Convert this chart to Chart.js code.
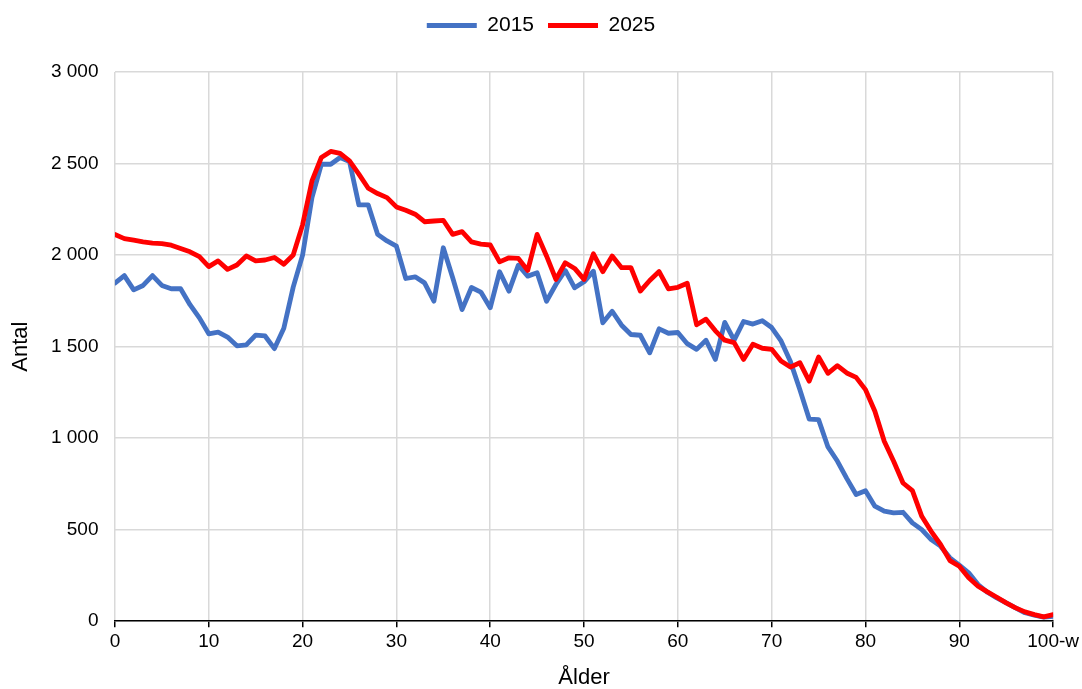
<!DOCTYPE html>
<html>
<head>
<meta charset="utf-8">
<script src="https://cdn.jsdelivr.net/npm/chart.js@4"></script>
<style>
  body { margin: 0; background: #fff; }
  #wrap { width: 1082px; height: 689px; position: relative; }
</style>
</head>
<body>
<div id="wrap"><canvas id="ageChart"></canvas></div>
<script>
// age labels, last one is the open class
const ageLabels = [];
for (let a = 0; a < 100; a++) ageLabels.push(String(a));
ageLabels.push('100-w');

const seriesNames = ['2015', '2025'];

const values2015 = [
  1847, 1888, 1810, 1834, 1888, 1834, 1816, 1816, 1729, 1657,
  1570, 1579, 1552, 1504, 1509, 1563, 1558, 1489, 1600, 1825,
  2000, 2314, 2496, 2496, 2533, 2511, 2274, 2274, 2113, 2077,
  2049, 1872, 1881, 1848, 1748, 2040, 1876, 1702, 1823, 1798,
  1712, 1909, 1803, 1945, 1885, 1903, 1748, 1839, 1916, 1821,
  1854, 1912, 1630, 1693, 1617, 1566, 1562, 1466, 1597, 1573,
  1577, 1516, 1485, 1535, 1430, 1632, 1535, 1637, 1623, 1641,
  1604, 1531, 1418, 1266, 1104, 1101, 952, 875, 780, 692,
  713, 628, 601, 592, 595, 537, 500, 446, 410, 346,
  306, 264, 200, 158, 127, 100, 73, 46, 33, 22,
  27
];

const values2025 = [
  2112, 2090, 2081, 2072, 2065, 2063, 2054, 2036, 2018, 1991,
  1937, 1968, 1922, 1946, 1995, 1968, 1973, 1987, 1950, 2000,
  2165, 2405, 2533, 2566, 2555, 2515, 2442, 2365, 2336, 2314,
  2263, 2245, 2223, 2182, 2186, 2190, 2113, 2128, 2072, 2060,
  2055, 1963, 1985, 1982, 1916, 2113, 1995, 1867, 1958, 1927,
  1867, 2007, 1909, 1995, 1931, 1931, 1803, 1861, 1910, 1815,
  1824, 1846, 1619, 1650, 1586, 1535, 1522, 1430, 1513, 1491,
  1485, 1421, 1388, 1412, 1311, 1443, 1354, 1396, 1356, 1332,
  1265, 1147, 983, 874, 755, 713, 573, 491, 419, 331,
  300, 237, 191, 160, 131, 100, 73, 51, 36, 24,
  36
];

const FONT = "'Liberation Sans', Arial, sans-serif";

function toPoints(vals) {
  return vals.map((v, i) => ({ x: i, y: v }));
}

// extra gap under the legend
const legendGap = {
  id: 'legendGap',
  beforeInit(chart) {
    const fit = chart.legend.fit;
    chart.legend.fit = function() {
      fit.bind(chart.legend)();
      this.height += 26;
    };
  }
};

new Chart('ageChart', {
  type: 'line',
  data: {
    datasets: [{
      label: seriesNames[0],
      data: toPoints(values2015),
      borderColor: '#4472C4',
      backgroundColor: '#4472C4',
      borderWidth: 4.8,
      borderJoinStyle: 'round',
      borderCapStyle: 'round',
      pointRadius: 0,
      tension: 0,
      order: 1
    }, {
      label: seriesNames[1],
      data: toPoints(values2025),
      borderColor: '#FF0000',
      backgroundColor: '#FF0000',
      borderWidth: 4.8,
      borderJoinStyle: 'round',
      borderCapStyle: 'round',
      pointRadius: 0,
      tension: 0,
      order: 0  // drawn on top, like excel
    }]
  },
  options: {
    responsive: true,
    maintainAspectRatio: false,
    animation: false,
    layout: { padding: { left: 0, right: 0, top: 1, bottom: 0 } },
    scales: {
      x: {
        type: 'linear',
        min: 0,
        max: 100,
        grid: {
          color: '#d9d9d9',
          lineWidth: 1.5,
          tickColor: '#000',
          tickLength: 6,
          tickWidth: 1.5
        },
        border: { display: true, color: '#000', width: 1.5 },
        ticks: {
          stepSize: 10,
          maxRotation: 0,
          padding: 3,
          color: '#000',
          font: { family: FONT, size: 19 },
          callback: function(val) {
            return ageLabels[val];
          }
        },
        title: {
          display: true,
          text: 'Ålder',
          color: '#000',
          font: { family: FONT, size: 22, lineHeight: 1 },
          padding: { top: 11, bottom: 0 }
        }
      },
      y: {
        min: 0,
        max: 3000,
        grid: {
          color: '#d9d9d9',
          lineWidth: 1.5,
          drawTicks: false
        },
        border: { display: false },
        ticks: {
          stepSize: 500,
          padding: 16.5,
          color: '#000',
          font: { family: FONT, size: 19 },
          callback: function(val) {
            return String(val).replace(/\B(?=(\d{3})+(?!\d))/g, ' ');
          }
        },
        title: {
          display: true,
          text: 'Antal',
          color: '#000',
          font: { family: FONT, size: 22 },
          padding: { top: 8, bottom: 0 }
        }
      }
    },
    plugins: {
      legend: {
        position: 'top',
        labels: {
          usePointStyle: true,
          pointStyle: 'line',
          pointStyleWidth: 50,
          boxHeight: 5,
          padding: 14,
          color: '#000',
          font: { family: FONT, size: 21 },
          sort: (a, b) => a.datasetIndex - b.datasetIndex
        }
      },
      tooltip: {
        intersect: false,
        mode: 'nearest',
        axis: 'x'
      }
    }
  },
  plugins: [legendGap]
});
</script>
</body>
</html>
